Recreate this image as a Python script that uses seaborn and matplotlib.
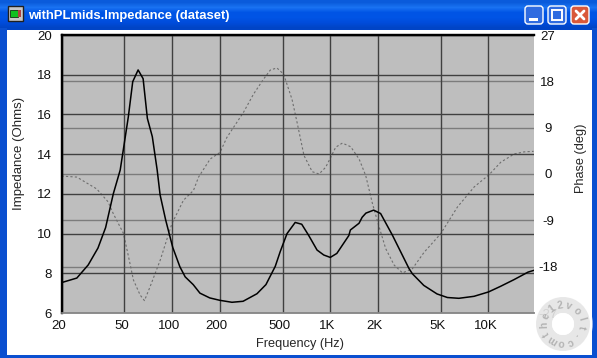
import numpy as np
import seaborn as sns
import matplotlib.pyplot as plt
from matplotlib.patches import FancyBboxPatch, Rectangle, Wedge, Circle
from matplotlib.ticker import NullLocator
from matplotlib.transforms import ScaledTranslation

# Impedance curve
imp_freq = [20, 25, 29.5, 34, 38, 42.5, 47, 49.5, 52.9, 56.4, 61, 65.6, 69.8, 75, 80.5, 84, 91, 101, 112,
            121, 136, 150, 173, 200, 239, 281, 344, 392, 449, 483, 533, 600, 660, 730, 825, 910, 1000,
            1100, 1310, 1340, 1520, 1590, 1680, 1880, 2080, 2470, 3140, 3300, 3900, 4730, 5500, 6500,
            8100, 10000, 11900, 14500, 17800, 19400]
imp_ohms = [7.53, 7.76, 8.42, 9.27, 10.3, 12.0, 13.2, 14.37, 15.88, 17.65, 18.24, 17.8, 15.8, 14.88, 13.2,
            11.95, 10.7, 9.3, 8.33, 7.82, 7.43, 7.0, 6.76, 6.64, 6.54, 6.59, 6.97, 7.43, 8.35, 9.1, 10.0,
            10.56, 10.47, 9.91, 9.17, 8.92, 8.8, 9.0, 9.9, 10.18, 10.52, 10.82, 11.03, 11.18, 11.01,
            9.92, 8.25, 7.98, 7.39, 6.96, 6.78, 6.74, 6.84, 7.06, 7.34, 7.68, 8.06, 8.15]

# Phase curve
phase_freq = [20, 25, 33.4, 39.4, 42.5, 49.2, 53, 57, 62.8, 66.9, 72.6, 84, 99.6, 118, 136.5, 147, 174,
              201, 222, 283, 327, 378, 418, 460, 507, 573, 617, 682, 769, 849, 935, 1005, 1082, 1192,
              1346, 1522, 1675, 1846, 2037, 2241, 2535, 2860, 3305, 3920, 4990, 6370, 8130, 10120,
              11970, 14560, 16830, 19290]
phase_deg = [-0.4, -0.6, -2.9, -5.4, -7.7, -11.5, -16, -20.6, -23.5, -24.6, -21.9, -16.8, -9.7, -5.1,
             -3.2, -0.6, 2.9, 4.2, 7.1, 12, 15.5, 18.4, 20.2, 20.6, 19.4, 14.5, 10, 3.6, 0.45, 0, 1.3,
             3.2, 5.2, 6, 5.3, 2.9, -0.3, -5.7, -10.3, -14.5, -17.7, -19.2, -18.4, -15.2, -11.6, -6.4,
             -2.5, -0.1, 2.3, 3.9, 4.3, 4.4]

freq_ticks = [20, 50, 100, 200, 500, 1000, 2000, 5000, 10000]
freq_labels = ["20", "50", "100", "200", "500", "1K", "2K", "5K", "10K"]
ohm_ticks = [6, 8, 10, 12, 14, 16, 18, 20]
deg_ticks = [-27, -18, -9, 0, 9, 18, 27]

W, H = 597, 358

sns.set_style("white")
plt.rcParams["font.family"] = ["Liberation Sans", "DejaVu Sans"]
plt.rcParams["axes.unicode_minus"] = False

fig = plt.figure(figsize=(W / 100, H / 100), dpi=100, facecolor="white")

# window frame
bg = fig.add_axes([0, 0, 1, 1], zorder=-5)
bg.set_xlim(0, W)
bg.set_ylim(H, 0)
bg.axis("off")
grad = np.array([[0.04, 0.36, 0.86], [0.10, 0.45, 0.95], [0.0, 0.33, 0.90], [0.0, 0.33, 0.90],
                 [0.0, 0.30, 0.86], [0.0, 0.27, 0.78]])[:, None, :]
bg.imshow(grad, extent=[0, W, 30, 0], aspect="auto", interpolation="bilinear")
bg.set_xlim(0, W)
bg.set_ylim(H, 0)
bg.add_patch(Rectangle((0, 28), 7, H - 28, color="#0a4fd0", lw=0))
bg.add_patch(Rectangle((592, 28), 5, H - 28, color="#0a4fd0", lw=0))
bg.add_patch(Rectangle((0, 355), W, 3, color="#0a4fd0", lw=0))
bg.add_patch(Rectangle((8, 6), 15, 15, fc="#c8c8c8", ec="#202020", lw=1))
bg.add_patch(Rectangle((10, 10), 8, 7, fc="#10c020", ec="#103010", lw=0.6))
bg.add_patch(Rectangle((18, 10), 3, 7, fc="#b04040", lw=0))
bg.text(28, 16.5, "withPLmids.Impedance (dataset)", color="white", fontsize=9.4, fontweight="bold",
        family="Liberation Sans", va="center", ha="left")

for x0 in [525, 548]:
    bg.add_patch(FancyBboxPatch((x0, 6), 18, 18, boxstyle="round,pad=0,rounding_size=3", fc="#2f6be0", ec="white", lw=1))
bg.add_patch(FancyBboxPatch((571, 6), 18, 18, boxstyle="round,pad=0,rounding_size=3", fc="#d9583a", ec="white", lw=1))
bg.add_patch(Rectangle((529, 18), 9, 3, color="white", lw=0))
bg.add_patch(Rectangle((552, 10), 10, 10, fc="none", ec="white", lw=1.4))
bg.plot([576, 584], [11, 19], color="white", lw=2)
bg.plot([576, 584], [19, 11], color="white", lw=2)

# plot area
left, right, top, bottom = 61.5, 534, 35, 313
rect = [left / W, 1 - bottom / H, (right - left) / W, (bottom - top) / H]
ax = fig.add_axes(rect)
ax2 = ax.twinx()
ax.set_zorder(ax2.get_zorder() + 1)
ax.patch.set_visible(False)
ax2.patch.set_visible(True)
ax2.patch.set_facecolor("#bebebe")

sns.lineplot(x=phase_freq, y=phase_deg, ax=ax2, color="#6e6e6e", lw=0.8, linestyle=(0, (2, 2)))
sns.lineplot(x=imp_freq, y=imp_ohms, ax=ax, color="black", lw=1.1)

ax.set_xscale("log")
ax.set_xlim(20, 19400)
ax.set_ylim(6, 20)
ax2.set_ylim(-27, 27)
ax.set_xticks(freq_ticks)
ax.set_xticklabels(freq_labels)
ax.xaxis.set_minor_locator(NullLocator())
ax.set_yticks(ohm_ticks)
ax2.set_yticks(deg_ticks)

ax.grid(True, axis="both", color="#404040", lw=1)
ax.set_axisbelow(True)
ax2.grid(True, axis="y", color="#7c7c7c", lw=1)
ax2.set_axisbelow(True)

ax.tick_params(axis="x", length=0, pad=5, labelsize=9.5, labelcolor="#111111")
ax.tick_params(axis="y", length=0, pad=7, labelsize=9.5, labelcolor="#111111")
ax2.tick_params(axis="y", length=0, pad=10, labelsize=9.5, labelcolor="#111111")
for lab in ax2.get_yticklabels():
    lab.set_ha("center")
shift = ScaledTranslation(-3 / 100, 0, fig.dpi_scale_trans)
for lab in ax.get_xticklabels():
    lab.set_transform(lab.get_transform() + shift)

ax.set_xlabel("Frequency (Hz)", fontsize=9.2)
ax.xaxis.set_label_coords(300 / W, 1 - 338 / H, transform=fig.transFigure)
ax.set_ylabel("Impedance (Ohms)", fontsize=9.5)
ax.yaxis.set_label_coords(25 / W, 1 - 153 / H, transform=fig.transFigure)
ax2.set_ylabel("Phase (deg)", fontsize=9.2)
ax2.yaxis.set_label_coords(575 / W, 1 - 158 / H, transform=fig.transFigure)

for a in [ax, ax2]:
    a.spines["left"].set_color("black")
    a.spines["left"].set_linewidth(1.6)
    a.spines["top"].set_color("black")
    a.spines["top"].set_linewidth(1.6)
    a.spines["bottom"].set_color("#8c8c8c")
    a.spines["bottom"].set_linewidth(1.2)
    a.spines["right"].set_visible(False)

# watermark in the corner
wm = fig.add_axes([0, 0, 1, 1], zorder=10)
wm.set_xlim(0, W)
wm.set_ylim(H, 0)
wm.axis("off")
cx, cy = 563, 324
wm.add_patch(Circle((cx, cy), 30, fc="white", alpha=0.55, lw=0))
wm.add_patch(Wedge((cx, cy), 27, 0, 360, width=16, fc="#e2e2e2", alpha=0.8, lw=0))
wm.add_patch(Circle((cx, cy), 11, fc="white", lw=0))
wm_text = "the12volt.com"
for i, ch in enumerate(wm_text):
    ang = np.radians(150 + i * 360 / len(wm_text))
    wm.text(cx + 19 * np.cos(ang), cy + 19 * np.sin(ang), ch, color="#b4b4b4", fontsize=7.5, fontweight="bold",
            ha="center", va="center", rotation=-np.degrees(ang) - 90)

fig.savefig("out.png", dpi=100)
